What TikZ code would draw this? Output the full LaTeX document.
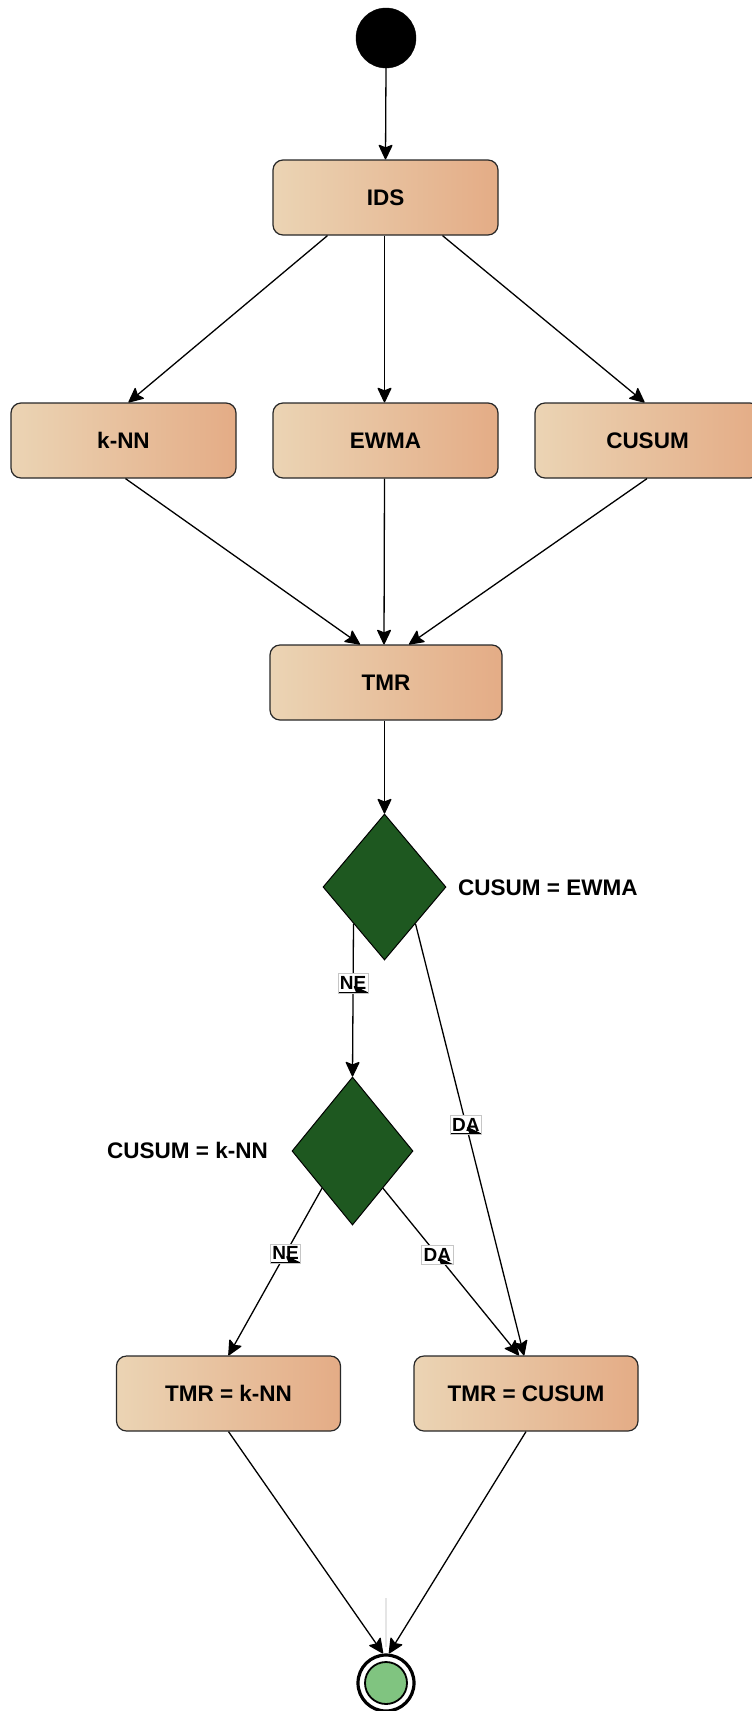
\documentclass[tikz,border=0pt]{standalone}
\usepackage{fontspec}
\setmainfont{Liberation Sans}
\usetikzlibrary{shapes.geometric,arrows.meta,calc}
\definecolor{boxL}{RGB}{235,212,180}
\definecolor{boxR}{RGB}{228,172,134}
\definecolor{boxD}{RGB}{40,40,40}
\definecolor{decG}{RGB}{30,88,32}
\definecolor{endG}{RGB}{128,196,128}
\tikzset{
  every node/.style={font=\bfseries},
  actbox/.style={rectangle, rounded corners=10pt, draw=boxD, line width=1.2pt,
    left color=boxL, right color=boxR, minimum width=225pt, minimum height=75pt,
    inner sep=0pt, font=\fontsize{22.5}{26}\selectfont\bfseries},
  decbox/.style={diamond, draw=black, line width=1pt, fill=decG, inner sep=0pt},
  conn/.style={draw=black, line width=1.3pt, -{Stealth[length=16pt,width=15pt,inset=3pt,round]}},
  elabel/.style={fill=white, draw=gray!45, line width=0.6pt, inner xsep=2pt, inner ysep=3pt,
    font=\fontsize{19}{21}\selectfont\bfseries,
    path picture={\draw[black,line width=1.4pt] (path picture bounding box.south west) -- (path picture bounding box.south east);}},
  dtext/.style={font=\fontsize{22.5}{26}\selectfont\bfseries, inner sep=0pt}
}
\begin{document}
\begin{tikzpicture}[x=1pt,y=-1pt]
\clip (0,0) rectangle (752,1711);
\fill[white] (0,0) rectangle (752,1711);
% nodes
\node[circle, fill=black, draw=black, minimum size=60pt, inner sep=0pt] (start) at (386,38) {};
\node[actbox] (ids) at (385.5,197.5) {IDS};
\node[actbox] (knn) at (123.5,440.5) {k-NN};
\node[actbox] (ewma) at (385.5,440.5) {EWMA};
\node[actbox] (cusum) at (647.5,440.5) {CUSUM};
\node[actbox, minimum width=232pt] (tmr) at (386,682.5) {TMR};
\node[decbox, minimum width=123pt, minimum height=146pt] (d1) at (384.5,887) {};
\node[dtext, anchor=west] (l1) at (458,888) {CUSUM = EWMA};
\node[decbox, minimum width=121pt, minimum height=148pt] (d2) at (352.5,1151) {};
\node[dtext, anchor=west] (l2) at (107,1150) {CUSUM = k-NN};
\node[actbox, minimum width=224pt] (tmrk) at (228.5,1393.5) {TMR = k-NN};
\node[actbox, minimum width=224pt] (tmrc) at (526,1393.5) {TMR = CUSUM};
\node[circle, draw=black, line width=3.2pt, fill=white, minimum size=56pt, inner sep=0pt] (end) at (386,1683) {};
\node[circle, draw=black, line width=1.8pt, fill=endG, minimum size=42pt, inner sep=0pt] (endin) at (386,1683) {};
% faint artifact line
\coordinate (fa) at (386,1598);
\draw[gray!20, line width=1.5pt] (fa) -- ([yshift=6pt]end.north);
% connectors
\draw[conn] (start.south) -- (ids.north);
\draw[conn] ([xshift=-58pt]ids.south) -- ([xshift=5pt]knn.north);
\draw[conn] ([xshift=-1pt]ids.south) -- ([xshift=-1pt]ewma.north);
\draw[conn] ([xshift=57pt]ids.south) -- ([xshift=-3pt]cusum.north);
\draw[conn] ([xshift=2pt]knn.south) -- ([xshift=-26pt]tmr.north);
\draw[conn] ([xshift=-1pt]ewma.south) -- ([xshift=-2pt]tmr.north);
\draw[conn] ([xshift=-0.5pt]cusum.south) -- ([xshift=23pt]tmr.north);
\draw[conn] ([xshift=-1.5pt]tmr.south) -- (d1.north);
\draw[conn] (d1.south west) -- node[elabel, pos=0.39] {NE} (d2.north);
\draw[conn] (d1.south east) -- node[elabel, pos=0.465] {DA} ([xshift=-2pt]tmrc.north);
\draw[conn] (d2.south west) -- node[elabel, pos=0.39] {NE} (tmrk.north);
\draw[conn] (d2.south east) -- node[elabel, pos=0.4] {DA} ([xshift=-7pt]tmrc.north);
\draw[conn] (tmrk.south) -- ([xshift=-3pt]end.north);
\draw[conn] (tmrc.south) -- ([xshift=3pt]end.north);
\end{tikzpicture}
\end{document}
